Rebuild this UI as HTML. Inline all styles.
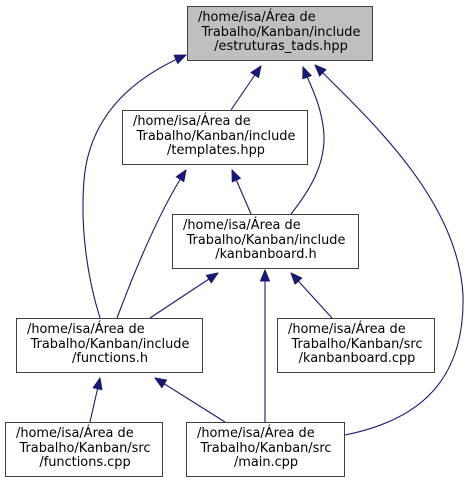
<!DOCTYPE html>
<html><head><meta charset="utf-8"><style>
html,body{margin:0;padding:0;background:#fff;width:473px;height:483px;overflow:hidden}
text{font-family:"DejaVu Sans","Liberation Sans",sans-serif;font-size:12.9px;fill:#000}
</style></head><body>
<svg width="473" height="483" viewBox="0 0 473 483" xmlns="http://www.w3.org/2000/svg">
<defs>
<marker id="a" markerWidth="12" markerHeight="10" refX="11.5" refY="5" orient="auto" markerUnits="userSpaceOnUse">
<path d="M0.5,0.5 L11.5,5 L0.5,9.5 Z" fill="#191970" stroke="#191970"/>
</marker>
</defs>
<g fill="none" stroke="#191970" stroke-width="1.1" marker-end="url(#a)">
<path d="M231,110 L261,66"/>
<path d="M291,214 C310,190 325,165 324,135 C322,105 310,85 303,67"/>
<path d="M345,435 C420,420 465,380 463,295 C458,200 370,120 315,65"/>
<path d="M100,318 C88,280 80,230 84,180 C90,110 140,75 186,55"/>
<path d="M251,214 L232,170"/>
<path d="M117,318 C135,270 160,210 186,170"/>
<path d="M150,318 L218,273"/>
<path d="M265,422 L265,270"/>
<path d="M332,318 L291,273"/>
<path d="M90,422 L100,378"/>
<path d="M225,422 L155,378"/>
</g>
<g stroke="#404040" stroke-width="1">
<rect x="187.5" y="6.5" width="185" height="54" fill="#bfbfbf"/>
<rect x="122.5" y="110.5" width="185" height="54" fill="#fff"/>
<rect x="172.5" y="214.5" width="186" height="54" fill="#fff"/>
<rect x="16.5" y="318.5" width="186" height="54" fill="#fff"/>
<rect x="277.5" y="318.5" width="157" height="54" fill="#fff"/>
<rect x="5.5" y="422.5" width="157" height="54" fill="#fff"/>
<rect x="186.5" y="422.5" width="158" height="54" fill="#fff"/>
</g>
<text x="198" y="21">/home/isa/Área de</text>
<text x="281" y="36" text-anchor="middle">Trabalho/Kanban/include</text>
<text x="281" y="50" text-anchor="middle">/estruturas_tads.hpp</text>

<text x="133" y="125">/home/isa/Área de</text>
<text x="216" y="140" text-anchor="middle">Trabalho/Kanban/include</text>
<text x="216" y="154" text-anchor="middle">/templates.hpp</text>

<text x="183" y="229">/home/isa/Área de</text>
<text x="266" y="244" text-anchor="middle">Trabalho/Kanban/include</text>
<text x="266" y="258" text-anchor="middle">/kanbanboard.h</text>

<text x="27" y="333">/home/isa/Área de</text>
<text x="110" y="348" text-anchor="middle">Trabalho/Kanban/include</text>
<text x="110" y="362" text-anchor="middle">/functions.h</text>

<text x="288" y="333">/home/isa/Área de</text>
<text x="357" y="348" text-anchor="middle">Trabalho/Kanban/src</text>
<text x="357" y="362" text-anchor="middle">/kanbanboard.cpp</text>

<text x="16" y="437">/home/isa/Área de</text>
<text x="85" y="452" text-anchor="middle">Trabalho/Kanban/src</text>
<text x="85" y="466" text-anchor="middle">/functions.cpp</text>

<text x="197" y="437">/home/isa/Área de</text>
<text x="266" y="452" text-anchor="middle">Trabalho/Kanban/src</text>
<text x="266" y="466" text-anchor="middle">/main.cpp</text>
</svg>
</body></html>
